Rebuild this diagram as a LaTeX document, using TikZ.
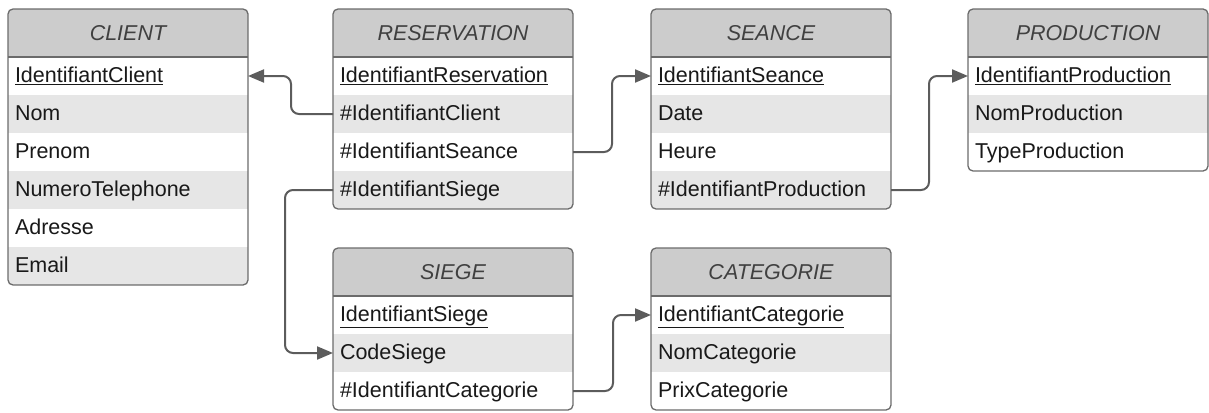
\documentclass[tikz,border=0pt]{standalone}
\usepackage{fontspec}
\setmainfont{Liberation Sans}
\usepackage{tikz}
\usetikzlibrary{arrows.meta,positioning}

\definecolor{headgray}{HTML}{CCCCCC}
\definecolor{rowgray}{HTML}{E6E6E6}
\definecolor{framegray}{HTML}{6B6B6B}
\definecolor{linkgray}{HTML}{5C5C5C}

\tikzset{
  tablehead/.style={minimum width=240pt, minimum height=48pt, inner sep=0pt, outer sep=0pt,
    fill=headgray, text=black!75, font=\fontsize{21.5}{25}\selectfont\itshape, anchor=north west},
  tablerow/.style={text width=226pt, inner xsep=7pt, inner ysep=0pt, outer sep=0pt,
    minimum height=38pt, align=left, text height=15pt, text depth=2pt,
    font=\fontsize{21.5}{25}\selectfont, text=black!90},
  tableframe/.style={draw=framegray, line width=1.3pt, rounded corners=5pt},
  fklink/.style={draw=linkgray, line width=2pt, rounded corners=8pt,
    -{Triangle[length=16pt,width=13pt]}},
}

\newcommand{\erdtable}[4]{%
  \node[tablehead] (#1-0) at (#2) {#3};
  \foreach \txt [count=\i, remember=\i as \j (initially 0)] in {#4} {
    \ifodd\i \def\rowfill{white}\else\def\rowfill{rowgray}\fi
    \node[tablerow, fill=\rowfill, below=0pt of #1-\j] (#1-\i) {\txt};
    \xdef\lastrow{\i}
  }
  \fill[white, even odd rule] (#1-0.north west) rectangle (#1-\lastrow.south east)
    [rounded corners=5pt] (#1-0.north west) rectangle (#1-\lastrow.south east);
  \draw[framegray, line width=1.3pt] (#1-0.south west) -- (#1-0.south east);
  \draw[tableframe] (#1-0.north west) rectangle (#1-\lastrow.south east);
}

\begin{document}
\begin{tikzpicture}[x=1pt, y=-1pt]
    \useasboundingbox (0,0) rectangle (1209,412);

    \erdtable{client}{8,9}{CLIENT}{{\underline{IdentifiantClient}}, Nom, Prenom, NumeroTelephone, Adresse, Email}
    \erdtable{reservation}{333,9}{RESERVATION}{{\underline{IdentifiantReservation}}, \#IdentifiantClient, \#IdentifiantSeance, \#IdentifiantSiege}
    \erdtable{seance}{651,9}{SEANCE}{{\underline{IdentifiantSeance}}, Date, Heure, \#IdentifiantProduction}
    \erdtable{production}{968,9}{PRODUCTION}{{\underline{IdentifiantProduction}}, NomProduction, TypeProduction}
    \erdtable{siege}{333,248}{SIEGE}{{\underline{IdentifiantSiege}}, CodeSiege, \#IdentifiantCategorie}
    \erdtable{categorie}{651,248}{CATEGORIE}{{\underline{IdentifiantCategorie}}, NomCategorie, PrixCategorie}

    \draw[fklink] (reservation-2.west) -- ++(-42,0) |- (client-1.east);
    \draw[fklink] (reservation-3.east) -- ++(39,0) |- (seance-1.west);
    \draw[fklink] (reservation-4.west) -- ++(-48,0) |- (siege-2.west);
    \draw[fklink] (seance-4.east) -- ++(38,0) |- (production-1.west);
    \draw[fklink] (siege-3.east) -- ++(40,0) |- (categorie-1.west);
\end{tikzpicture}
\end{document}
